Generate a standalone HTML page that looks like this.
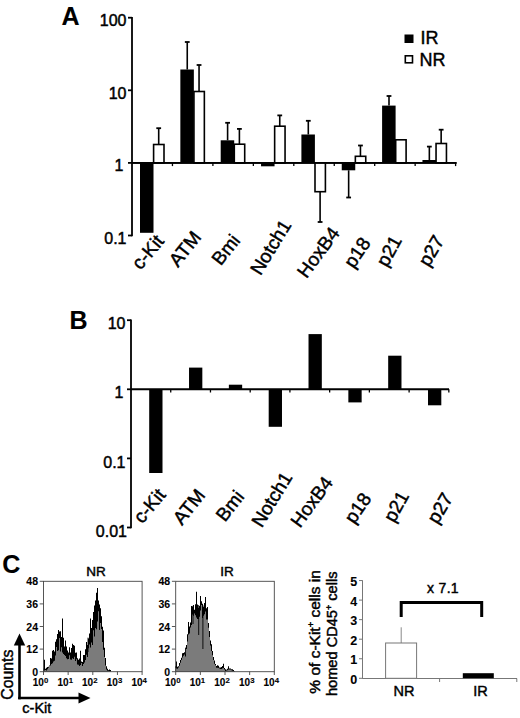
<!DOCTYPE html>
<html><head><meta charset="utf-8"><style>
html,body{margin:0;padding:0;background:#fff;}
body{width:520px;height:718px;overflow:hidden;}
svg{display:block;font-family:"Liberation Sans", sans-serif;}
text{stroke:#000;stroke-width:0.45px;}
text[font-weight=bold]{stroke-width:0.1px;}
</style></head><body>
<svg width="520" height="718" viewBox="0 0 520 718" font-family='"Liberation Sans", sans-serif' fill="#000">
<rect width="520" height="718" fill="#fff"/>
<text x="61.5" y="25.3" font-size="25" font-weight="bold">A</text>
<line x1="132.0" y1="16.900000000000016" x2="132.0" y2="236.3" stroke="#000" stroke-width="1.8"/>
<line x1="128" y1="17.700000000000017" x2="132.0" y2="17.700000000000017" stroke="#000" stroke-width="1.8"/>
<text x="126.5" y="26.100000000000016" font-size="16" text-anchor="end">100</text>
<line x1="128" y1="90.30000000000001" x2="132.0" y2="90.30000000000001" stroke="#000" stroke-width="1.8"/>
<text x="126.5" y="98.70000000000002" font-size="16" text-anchor="end">10</text>
<line x1="128" y1="162.9" x2="132.0" y2="162.9" stroke="#000" stroke-width="1.8"/>
<text x="123.5" y="171.3" font-size="16" text-anchor="end">1</text>
<line x1="128" y1="235.5" x2="132.0" y2="235.5" stroke="#000" stroke-width="1.8"/>
<text x="126.5" y="243.9" font-size="16" text-anchor="end">0.1</text>
<line x1="132.0" y1="162.9" x2="456.5" y2="162.9" stroke="#000" stroke-width="1.9"/>
<line x1="172.45" y1="162.9" x2="172.45" y2="166.1" stroke="#000" stroke-width="1.3"/>
<line x1="212.9" y1="162.9" x2="212.9" y2="166.1" stroke="#000" stroke-width="1.3"/>
<line x1="253.35000000000002" y1="162.9" x2="253.35000000000002" y2="166.1" stroke="#000" stroke-width="1.3"/>
<line x1="293.8" y1="162.9" x2="293.8" y2="166.1" stroke="#000" stroke-width="1.3"/>
<line x1="334.25" y1="162.9" x2="334.25" y2="166.1" stroke="#000" stroke-width="1.3"/>
<line x1="374.70000000000005" y1="162.9" x2="374.70000000000005" y2="166.1" stroke="#000" stroke-width="1.3"/>
<line x1="415.15000000000003" y1="162.9" x2="415.15000000000003" y2="166.1" stroke="#000" stroke-width="1.3"/>
<line x1="455.6" y1="162.9" x2="455.6" y2="166.1" stroke="#000" stroke-width="1.3"/>
<rect x="140.0" y="162.9" width="13.5" height="69.9" fill="#000"/>
<line x1="158.7" y1="144.5" x2="158.7" y2="128.2" stroke="#000" stroke-width="1.6"/>
<line x1="156.29999999999998" y1="128.2" x2="161.1" y2="128.2" stroke="#000" stroke-width="1.8"/>
<rect x="153.60000000000002" y="144.5" width="10.4" height="18.400000000000006" fill="#fff" stroke="#000" stroke-width="1.6"/>
<line x1="187.25" y1="69.5" x2="187.25" y2="42" stroke="#000" stroke-width="1.6"/>
<line x1="184.85" y1="42" x2="189.65" y2="42" stroke="#000" stroke-width="1.8"/>
<rect x="180.35" y="69.5" width="13.5" height="93.4" fill="#000"/>
<line x1="199.04999999999998" y1="91.5" x2="199.04999999999998" y2="65" stroke="#000" stroke-width="1.6"/>
<line x1="196.64999999999998" y1="65" x2="201.45" y2="65" stroke="#000" stroke-width="1.8"/>
<rect x="193.95000000000002" y="91.5" width="10.4" height="71.4" fill="#fff" stroke="#000" stroke-width="1.6"/>
<line x1="227.6" y1="140.3" x2="227.6" y2="122.8" stroke="#000" stroke-width="1.6"/>
<line x1="225.2" y1="122.8" x2="230.0" y2="122.8" stroke="#000" stroke-width="1.8"/>
<rect x="220.7" y="140.3" width="13.5" height="22.599999999999994" fill="#000"/>
<line x1="239.39999999999998" y1="144.2" x2="239.39999999999998" y2="128.9" stroke="#000" stroke-width="1.6"/>
<line x1="236.99999999999997" y1="128.9" x2="241.79999999999998" y2="128.9" stroke="#000" stroke-width="1.8"/>
<rect x="234.3" y="144.2" width="10.4" height="18.700000000000017" fill="#fff" stroke="#000" stroke-width="1.6"/>
<rect x="261.05" y="162.9" width="13.5" height="3.4000000000000057" fill="#000"/>
<line x1="279.75" y1="126.2" x2="279.75" y2="115.4" stroke="#000" stroke-width="1.6"/>
<line x1="277.35" y1="115.4" x2="282.15" y2="115.4" stroke="#000" stroke-width="1.8"/>
<rect x="274.65000000000003" y="126.2" width="10.4" height="36.7" fill="#fff" stroke="#000" stroke-width="1.6"/>
<line x1="308.29999999999995" y1="134.5" x2="308.29999999999995" y2="120.8" stroke="#000" stroke-width="1.6"/>
<line x1="305.9" y1="120.8" x2="310.69999999999993" y2="120.8" stroke="#000" stroke-width="1.8"/>
<rect x="301.4" y="134.5" width="13.5" height="28.400000000000006" fill="#000"/>
<line x1="320.09999999999997" y1="191.7" x2="320.09999999999997" y2="222" stroke="#000" stroke-width="1.6"/>
<line x1="317.7" y1="222" x2="322.49999999999994" y2="222" stroke="#000" stroke-width="1.8"/>
<rect x="315.0" y="162.9" width="10.4" height="28.799999999999983" fill="#fff" stroke="#000" stroke-width="1.6"/>
<line x1="348.65" y1="170.3" x2="348.65" y2="197.5" stroke="#000" stroke-width="1.6"/>
<line x1="346.25" y1="197.5" x2="351.04999999999995" y2="197.5" stroke="#000" stroke-width="1.8"/>
<rect x="341.75" y="162.9" width="13.5" height="7.400000000000006" fill="#000"/>
<line x1="360.45" y1="156.3" x2="360.45" y2="145.5" stroke="#000" stroke-width="1.6"/>
<line x1="358.05" y1="145.5" x2="362.84999999999997" y2="145.5" stroke="#000" stroke-width="1.8"/>
<rect x="355.35" y="156.3" width="10.4" height="6.599999999999994" fill="#fff" stroke="#000" stroke-width="1.6"/>
<line x1="389.0" y1="105.6" x2="389.0" y2="96" stroke="#000" stroke-width="1.6"/>
<line x1="386.6" y1="96" x2="391.4" y2="96" stroke="#000" stroke-width="1.8"/>
<rect x="382.1" y="105.6" width="13.5" height="57.30000000000001" fill="#000"/>
<rect x="395.70000000000005" y="139.8" width="10.4" height="23.099999999999994" fill="#fff" stroke="#000" stroke-width="1.6"/>
<line x1="429.34999999999997" y1="160" x2="429.34999999999997" y2="146.6" stroke="#000" stroke-width="1.6"/>
<line x1="426.95" y1="146.6" x2="431.74999999999994" y2="146.6" stroke="#000" stroke-width="1.8"/>
<rect x="422.45" y="160" width="13.5" height="2.9000000000000057" fill="#000"/>
<line x1="441.15" y1="143.5" x2="441.15" y2="129.7" stroke="#000" stroke-width="1.6"/>
<line x1="438.75" y1="129.7" x2="443.54999999999995" y2="129.7" stroke="#000" stroke-width="1.8"/>
<rect x="436.05" y="143.5" width="10.4" height="19.400000000000006" fill="#fff" stroke="#000" stroke-width="1.6"/>
<line x1="132.0" y1="162.9" x2="456.5" y2="162.9" stroke="#000" stroke-width="1.9"/>
<rect x="404.5" y="34.5" width="9" height="8.5" fill="#000"/>
<rect x="405.3" y="55.8" width="7.2" height="7" fill="#fff" stroke="#000" stroke-width="1.6"/>
<text x="420.5" y="44.3" font-size="18">IR</text>
<text x="419.5" y="65.5" font-size="18">NR</text>
<text font-size="19" text-anchor="end" transform="translate(165.0,241.7) rotate(-50)">c-Kit</text>
<text font-size="19" text-anchor="end" transform="translate(202.2,237.6) rotate(-51.5)">ATM</text>
<text font-size="19" text-anchor="end" transform="translate(241.0,240.8) rotate(-52)">Bmi</text>
<text font-size="19" text-anchor="end" transform="translate(291.9,225.0) rotate(-58.5)">Notch1</text>
<text font-size="19" text-anchor="end" transform="translate(340.5,233.3) rotate(-53.5)">HoxB4</text>
<text font-size="19" text-anchor="end" transform="translate(371.4,243.0) rotate(-56)">p18</text>
<text font-size="19" text-anchor="end" transform="translate(402.4,240.3) rotate(-61)">p21</text>
<text font-size="19" text-anchor="end" transform="translate(444.8,240.5) rotate(-59.5)">p27</text>
<text x="69.6" y="329.3" font-size="25" font-weight="bold">B</text>
<line x1="131.0" y1="319.40000000000003" x2="131.0" y2="528.3" stroke="#000" stroke-width="1.8"/>
<line x1="127" y1="320.20000000000005" x2="131.0" y2="320.20000000000005" stroke="#000" stroke-width="1.8"/>
<text x="125.5" y="328.80000000000007" font-size="16" text-anchor="end">10</text>
<line x1="127" y1="389.3" x2="131.0" y2="389.3" stroke="#000" stroke-width="1.8"/>
<text x="123.3" y="397.90000000000003" font-size="16" text-anchor="end">1</text>
<line x1="127" y1="458.4" x2="131.0" y2="458.4" stroke="#000" stroke-width="1.8"/>
<text x="125.5" y="468.0" font-size="16" text-anchor="end">0.1</text>
<line x1="127" y1="527.5" x2="131.0" y2="527.5" stroke="#000" stroke-width="1.8"/>
<text x="127" y="537.1" font-size="16" text-anchor="end">0.01</text>
<line x1="131.0" y1="389.3" x2="449" y2="389.3" stroke="#000" stroke-width="1.9"/>
<line x1="170.73" y1="389.3" x2="170.73" y2="392.5" stroke="#000" stroke-width="1.3"/>
<line x1="210.45999999999998" y1="389.3" x2="210.45999999999998" y2="392.5" stroke="#000" stroke-width="1.3"/>
<line x1="250.19" y1="389.3" x2="250.19" y2="392.5" stroke="#000" stroke-width="1.3"/>
<line x1="289.91999999999996" y1="389.3" x2="289.91999999999996" y2="392.5" stroke="#000" stroke-width="1.3"/>
<line x1="329.65" y1="389.3" x2="329.65" y2="392.5" stroke="#000" stroke-width="1.3"/>
<line x1="369.38" y1="389.3" x2="369.38" y2="392.5" stroke="#000" stroke-width="1.3"/>
<line x1="409.10999999999996" y1="389.3" x2="409.10999999999996" y2="392.5" stroke="#000" stroke-width="1.3"/>
<line x1="448.84" y1="389.3" x2="448.84" y2="392.5" stroke="#000" stroke-width="1.3"/>
<rect x="149.2" y="389.3" width="13.3" height="83.69999999999999" fill="#000"/>
<rect x="189.02999999999997" y="367.6" width="13.3" height="21.69999999999999" fill="#000"/>
<rect x="228.85999999999999" y="384.7" width="13.3" height="4.600000000000023" fill="#000"/>
<rect x="268.69" y="389.3" width="13.3" height="37.5" fill="#000"/>
<rect x="308.52" y="334.1" width="13.3" height="55.19999999999999" fill="#000"/>
<rect x="348.34999999999997" y="389.3" width="13.3" height="13.099999999999966" fill="#000"/>
<rect x="388.17999999999995" y="355.7" width="13.3" height="33.60000000000002" fill="#000"/>
<rect x="428.01" y="389.3" width="13.3" height="16.0" fill="#000"/>
<text font-size="19" text-anchor="end" transform="translate(166.6,495.4) rotate(-50)">c-Kit</text>
<text font-size="19" text-anchor="end" transform="translate(206.0,495.6) rotate(-51.5)">ATM</text>
<text font-size="19" text-anchor="end" transform="translate(245.2,497.0) rotate(-52)">Bmi</text>
<text font-size="19" text-anchor="end" transform="translate(293.1,477.2) rotate(-58.5)">Notch1</text>
<text font-size="19" text-anchor="end" transform="translate(333.8,482.8) rotate(-53.5)">HoxB4</text>
<text font-size="19" text-anchor="end" transform="translate(372.1,498.4) rotate(-56)">p18</text>
<text font-size="19" text-anchor="end" transform="translate(409.6,495.8) rotate(-61)">p21</text>
<text font-size="19" text-anchor="end" transform="translate(453.7,497.8) rotate(-59.5)">p27</text>
<text x="2.2" y="572.8" font-size="25" font-weight="bold">C</text>
<path d="M43.00,671.6 L43.00,668.4 L44.00,668.4 L44.00,659.8 L45.00,659.8 L45.00,668.7 L46.00,668.7 L46.00,667.7 L47.00,667.7 L47.00,667.1 L48.00,667.1 L48.00,666.8 L49.00,666.8 L49.00,665.5 L50.00,665.5 L50.00,658.1 L51.00,658.1 L51.00,658.4 L52.00,658.4 L52.00,650.7 L53.00,650.7 L53.00,650.0 L54.00,650.0 L54.00,651.5 L55.00,651.5 L55.00,641.8 L56.00,641.8 L56.00,639.3 L57.00,639.3 L57.00,634.0 L58.00,634.0 L58.00,630.0 L59.00,630.0 L59.00,631.4 L60.00,631.4 L60.00,631.3 L61.00,631.3 L61.00,636.9 L62.00,636.9 L62.00,618.4 L63.00,618.4 L63.00,637.8 L64.00,637.8 L64.00,646.6 L65.00,646.6 L65.00,640.4 L66.00,640.4 L66.00,646.4 L67.00,646.4 L67.00,650.6 L68.00,650.6 L68.00,652.4 L69.00,652.4 L69.00,647.3 L70.00,647.3 L70.00,652.5 L71.00,652.5 L71.00,648.0 L72.00,648.0 L72.00,643.8 L73.00,643.8 L73.00,645.0 L74.00,645.0 L74.00,645.7 L75.00,645.7 L75.00,652.7 L76.00,652.7 L76.00,652.5 L77.00,652.5 L77.00,658.3 L78.00,658.3 L78.00,659.7 L79.00,659.7 L79.00,658.4 L80.00,658.4 L80.00,650.7 L81.00,650.7 L81.00,661.4 L82.00,661.4 L82.00,661.9 L83.00,661.9 L83.00,654.9 L84.00,654.9 L84.00,654.9 L85.00,654.9 L85.00,649.3 L86.00,649.3 L86.00,642.0 L87.00,642.0 L87.00,645.1 L88.00,645.1 L88.00,638.4 L89.00,638.4 L89.00,633.6 L90.00,633.6 L90.00,618.4 L91.00,618.4 L91.00,628.1 L92.00,628.1 L92.00,620.0 L93.00,620.0 L93.00,612.0 L94.00,612.0 L94.00,605.6 L95.00,605.6 L95.00,600.4 L96.00,600.4 L96.00,592.7 L97.00,592.7 L97.00,588.1 L98.00,588.1 L98.00,600.6 L99.00,600.6 L99.00,604.4 L100.00,604.4 L100.00,608.2 L101.00,608.2 L101.00,616.3 L102.00,616.3 L102.00,626.8 L103.00,626.8 L103.00,630.4 L104.00,630.4 L104.00,647.7 L105.00,647.7 L105.00,657.9 L106.00,657.9 L106.00,666.2 L107.00,666.2 L107.00,668.8 L108.00,668.8 L108.00,670.0 L109.00,670.0 L109.00,669.5 L110.00,669.5 L110.00,670.0 L111.00,670.0 L111.00,671.5 L112.00,671.5 L112.00,671.6 Z" fill="#000"/>
<path d="M43.00,671.6 L43.00,670.4 L44.00,670.4 L44.00,670.4 L45.00,670.4 L45.00,670.0 L46.00,670.0 L46.00,670.4 L47.00,670.4 L47.00,669.3 L48.00,669.3 L48.00,667.7 L49.00,667.7 L49.00,665.9 L50.00,665.9 L50.00,665.6 L51.00,665.6 L51.00,664.0 L52.00,664.0 L52.00,663.2 L53.00,663.2 L53.00,661.5 L54.00,661.5 L54.00,660.7 L55.00,660.7 L55.00,655.4 L56.00,655.4 L56.00,647.1 L57.00,647.1 L57.00,650.9 L58.00,650.9 L58.00,650.2 L59.00,650.2 L59.00,638.1 L60.00,638.1 L60.00,651.4 L61.00,651.4 L61.00,647.3 L62.00,647.3 L62.00,652.4 L63.00,652.4 L63.00,653.9 L64.00,653.9 L64.00,655.0 L65.00,655.0 L65.00,655.9 L66.00,655.9 L66.00,658.3 L67.00,658.3 L67.00,659.3 L68.00,659.3 L68.00,658.9 L69.00,658.9 L69.00,655.2 L70.00,655.2 L70.00,659.4 L71.00,659.4 L71.00,659.8 L72.00,659.8 L72.00,658.3 L73.00,658.3 L73.00,658.9 L74.00,658.9 L74.00,656.6 L75.00,656.6 L75.00,661.0 L76.00,661.0 L76.00,659.2 L77.00,659.2 L77.00,664.6 L78.00,664.6 L78.00,664.8 L79.00,664.8 L79.00,665.9 L80.00,665.9 L80.00,665.0 L81.00,665.0 L81.00,662.9 L82.00,662.9 L82.00,666.1 L83.00,666.1 L83.00,664.1 L84.00,664.1 L84.00,662.5 L85.00,662.5 L85.00,660.1 L86.00,660.1 L86.00,654.8 L87.00,654.8 L87.00,657.1 L88.00,657.1 L88.00,648.3 L89.00,648.3 L89.00,644.4 L90.00,644.4 L90.00,647.6 L91.00,647.6 L91.00,642.4 L92.00,642.4 L92.00,644.9 L93.00,644.9 L93.00,630.2 L94.00,630.2 L94.00,636.4 L95.00,636.4 L95.00,628.1 L96.00,628.1 L96.00,629.2 L97.00,629.2 L97.00,621.4 L98.00,621.4 L98.00,611.3 L99.00,611.3 L99.00,628.8 L100.00,628.8 L100.00,623.0 L101.00,623.0 L101.00,629.1 L102.00,629.1 L102.00,641.9 L103.00,641.9 L103.00,649.8 L104.00,649.8 L104.00,656.9 L105.00,656.9 L105.00,665.5 L106.00,665.5 L106.00,669.4 L107.00,669.4 L107.00,670.8 L108.00,670.8 L108.00,670.7 L109.00,670.7 L109.00,671.6 L110.00,671.6 L110.00,671.6 L111.00,671.6 L111.00,671.6 L112.00,671.6 L112.00,671.6 Z" fill="#7b7b7b"/>
<line x1="60.5" y1="637.6" x2="60.5" y2="650" stroke="#000" stroke-width="0.9"/>
<line x1="88" y1="637.6333333333333" x2="88" y2="652" stroke="#000" stroke-width="0.9"/>
<line x1="99.5" y1="611.8499999999999" x2="99.5" y2="630" stroke="#000" stroke-width="0.9"/>
<line x1="66" y1="647.7" x2="66" y2="656" stroke="#000" stroke-width="0.9"/>
<line x1="74" y1="649.7" x2="74" y2="657" stroke="#000" stroke-width="0.9"/>
<rect x="43.5" y="581.3" width="98.6" height="90.4" fill="none" stroke="#444" stroke-width="0.9"/>
<text x="96" y="575.8" font-size="13.5" text-anchor="middle" stroke="#000" stroke-width="0.35">NR</text>
<line x1="39.7" y1="581.3" x2="43.2" y2="581.3" stroke="#444" stroke-width="0.9"/>
<text x="38.0" y="585.4" font-size="10.5" font-weight="bold" text-anchor="end">48</text>
<line x1="39.7" y1="603.9" x2="43.2" y2="603.9" stroke="#444" stroke-width="0.9"/>
<text x="38.0" y="608.0" font-size="10.5" font-weight="bold" text-anchor="end">36</text>
<line x1="39.7" y1="626.5" x2="43.2" y2="626.5" stroke="#444" stroke-width="0.9"/>
<text x="38.0" y="630.6" font-size="10.5" font-weight="bold" text-anchor="end">24</text>
<line x1="39.7" y1="649.0999999999999" x2="43.2" y2="649.0999999999999" stroke="#444" stroke-width="0.9"/>
<text x="38.0" y="653.1999999999999" font-size="10.5" font-weight="bold" text-anchor="end">12</text>
<line x1="39.7" y1="671.6999999999999" x2="43.2" y2="671.6999999999999" stroke="#444" stroke-width="0.9"/>
<text x="38.0" y="675.8" font-size="10.5" font-weight="bold" text-anchor="end">0</text>
<line x1="43.5" y1="671.6" x2="43.5" y2="675" stroke="#444" stroke-width="0.9"/>
<text x="43.9" y="686.3" font-size="10" font-weight="bold" text-anchor="end">10</text>
<text x="44.0" y="683.0" font-size="7.8" font-weight="bold">0</text>
<line x1="68.15" y1="671.6" x2="68.15" y2="675" stroke="#444" stroke-width="0.9"/>
<text x="68.55000000000001" y="686.3" font-size="10" font-weight="bold" text-anchor="end">10</text>
<text x="68.65" y="683.0" font-size="7.8" font-weight="bold">1</text>
<line x1="92.8" y1="671.6" x2="92.8" y2="675" stroke="#444" stroke-width="0.9"/>
<text x="93.2" y="686.3" font-size="10" font-weight="bold" text-anchor="end">10</text>
<text x="93.3" y="683.0" font-size="7.8" font-weight="bold">2</text>
<line x1="117.44999999999999" y1="671.6" x2="117.44999999999999" y2="675" stroke="#444" stroke-width="0.9"/>
<text x="117.85" y="686.3" font-size="10" font-weight="bold" text-anchor="end">10</text>
<text x="117.94999999999999" y="683.0" font-size="7.8" font-weight="bold">3</text>
<line x1="142.1" y1="671.6" x2="142.1" y2="675" stroke="#444" stroke-width="0.9"/>
<text x="142.5" y="686.3" font-size="10" font-weight="bold" text-anchor="end">10</text>
<text x="142.6" y="683.0" font-size="7.8" font-weight="bold">4</text>
<path d="M175.00,671.6 L175.00,666.2 L176.00,666.2 L176.00,661.5 L177.00,661.5 L177.00,666.7 L178.00,666.7 L178.00,666.2 L179.00,666.2 L179.00,663.1 L180.00,663.1 L180.00,660.0 L181.00,660.0 L181.00,657.7 L182.00,657.7 L182.00,653.2 L183.00,653.2 L183.00,652.9 L184.00,652.9 L184.00,652.3 L185.00,652.3 L185.00,653.7 L186.00,653.7 L186.00,645.0 L187.00,645.0 L187.00,634.2 L188.00,634.2 L188.00,622.0 L189.00,622.0 L189.00,626.5 L190.00,626.5 L190.00,622.4 L191.00,622.4 L191.00,606.0 L192.00,606.0 L192.00,606.5 L193.00,606.5 L193.00,605.1 L194.00,605.1 L194.00,609.7 L195.00,609.7 L195.00,604.2 L196.00,604.2 L196.00,591.7 L197.00,591.7 L197.00,604.5 L198.00,604.5 L198.00,607.9 L199.00,607.9 L199.00,606.0 L200.00,606.0 L200.00,596.0 L201.00,596.0 L201.00,601.3 L202.00,601.3 L202.00,603.7 L203.00,603.7 L203.00,606.7 L204.00,606.7 L204.00,603.0 L205.00,603.0 L205.00,597.0 L206.00,597.0 L206.00,608.2 L207.00,608.2 L207.00,607.1 L208.00,607.1 L208.00,622.9 L209.00,622.9 L209.00,630.9 L210.00,630.9 L210.00,640.5 L211.00,640.5 L211.00,644.3 L212.00,644.3 L212.00,650.9 L213.00,650.9 L213.00,657.0 L214.00,657.0 L214.00,660.6 L215.00,660.6 L215.00,664.0 L216.00,664.0 L216.00,666.1 L217.00,666.1 L217.00,665.2 L218.00,665.2 L218.00,665.7 L219.00,665.7 L219.00,667.4 L220.00,667.4 L220.00,667.6 L221.00,667.6 L221.00,667.1 L222.00,667.1 L222.00,665.9 L223.00,665.9 L223.00,663.7 L224.00,663.7 L224.00,668.1 L225.00,668.1 L225.00,669.2 L226.00,669.2 L226.00,669.8 L227.00,669.8 L227.00,668.7 L228.00,668.7 L228.00,666.2 L229.00,666.2 L229.00,668.5 L230.00,668.5 L230.00,668.4 L231.00,668.4 L231.00,669.3 L232.00,669.3 L232.00,669.2 L233.00,669.2 L233.00,669.9 L234.00,669.9 L234.00,671.0 L235.00,671.0 L235.00,671.6 Z" fill="#000"/>
<path d="M175.00,671.6 L175.00,668.0 L176.00,668.0 L176.00,668.5 L177.00,668.5 L177.00,668.8 L178.00,668.8 L178.00,667.6 L179.00,667.6 L179.00,665.7 L180.00,665.7 L180.00,662.8 L181.00,662.8 L181.00,660.0 L182.00,660.0 L182.00,657.5 L183.00,657.5 L183.00,655.7 L184.00,655.7 L184.00,654.6 L185.00,654.6 L185.00,656.5 L186.00,656.5 L186.00,648.9 L187.00,648.9 L187.00,641.4 L188.00,641.4 L188.00,634.4 L189.00,634.4 L189.00,633.5 L190.00,633.5 L190.00,627.4 L191.00,627.4 L191.00,624.9 L192.00,624.9 L192.00,614.5 L193.00,614.5 L193.00,615.8 L194.00,615.8 L194.00,613.6 L195.00,613.6 L195.00,615.3 L196.00,615.3 L196.00,617.5 L197.00,617.5 L197.00,619.0 L198.00,619.0 L198.00,618.9 L199.00,618.9 L199.00,616.7 L200.00,616.7 L200.00,610.4 L201.00,610.4 L201.00,605.0 L202.00,605.0 L202.00,618.0 L203.00,618.0 L203.00,615.8 L204.00,615.8 L204.00,614.2 L205.00,614.2 L205.00,611.6 L206.00,611.6 L206.00,619.6 L207.00,619.6 L207.00,619.5 L208.00,619.5 L208.00,627.7 L209.00,627.7 L209.00,636.9 L210.00,636.9 L210.00,645.6 L211.00,645.6 L211.00,650.9 L212.00,650.9 L212.00,655.3 L213.00,655.3 L213.00,660.1 L214.00,660.1 L214.00,663.7 L215.00,663.7 L215.00,665.3 L216.00,665.3 L216.00,667.8 L217.00,667.8 L217.00,667.8 L218.00,667.8 L218.00,668.0 L219.00,668.0 L219.00,668.6 L220.00,668.6 L220.00,669.1 L221.00,669.1 L221.00,668.9 L222.00,668.9 L222.00,668.3 L223.00,668.3 L223.00,667.9 L224.00,667.9 L224.00,669.5 L225.00,669.5 L225.00,671.0 L226.00,671.0 L226.00,670.5 L227.00,670.5 L227.00,670.2 L228.00,670.2 L228.00,669.5 L229.00,669.5 L229.00,669.5 L230.00,669.5 L230.00,669.6 L231.00,669.6 L231.00,670.2 L232.00,670.2 L232.00,670.8 L233.00,670.8 L233.00,671.5 L234.00,671.5 L234.00,671.6 L235.00,671.6 L235.00,671.6 Z" fill="#7b7b7b"/>
<line x1="198.7" y1="605.0142857142857" x2="198.7" y2="635" stroke="#000" stroke-width="0.9"/>
<line x1="202.9" y1="605.1619047619048" x2="202.9" y2="649" stroke="#000" stroke-width="0.9"/>
<line x1="193" y1="605.8533333333334" x2="193" y2="624" stroke="#000" stroke-width="0.9"/>
<line x1="185.5" y1="647.6428571428572" x2="185.5" y2="655" stroke="#000" stroke-width="0.9"/>
<rect x="175.70000000000002" y="581.3" width="98.6" height="90.4" fill="none" stroke="#444" stroke-width="0.9"/>
<text x="227" y="575.8" font-size="13.5" text-anchor="middle" stroke="#000" stroke-width="0.35">IR</text>
<line x1="171.9" y1="581.3" x2="175.4" y2="581.3" stroke="#444" stroke-width="0.9"/>
<text x="170.20000000000002" y="585.4" font-size="10.5" font-weight="bold" text-anchor="end">48</text>
<line x1="171.9" y1="603.9" x2="175.4" y2="603.9" stroke="#444" stroke-width="0.9"/>
<text x="170.20000000000002" y="608.0" font-size="10.5" font-weight="bold" text-anchor="end">36</text>
<line x1="171.9" y1="626.5" x2="175.4" y2="626.5" stroke="#444" stroke-width="0.9"/>
<text x="170.20000000000002" y="630.6" font-size="10.5" font-weight="bold" text-anchor="end">24</text>
<line x1="171.9" y1="649.0999999999999" x2="175.4" y2="649.0999999999999" stroke="#444" stroke-width="0.9"/>
<text x="170.20000000000002" y="653.1999999999999" font-size="10.5" font-weight="bold" text-anchor="end">12</text>
<line x1="171.9" y1="671.6999999999999" x2="175.4" y2="671.6999999999999" stroke="#444" stroke-width="0.9"/>
<text x="170.20000000000002" y="675.8" font-size="10.5" font-weight="bold" text-anchor="end">0</text>
<line x1="175.70000000000002" y1="671.6" x2="175.70000000000002" y2="675" stroke="#444" stroke-width="0.9"/>
<text x="176.10000000000002" y="686.3" font-size="10" font-weight="bold" text-anchor="end">10</text>
<text x="176.20000000000002" y="683.0" font-size="7.8" font-weight="bold">0</text>
<line x1="200.35000000000002" y1="671.6" x2="200.35000000000002" y2="675" stroke="#444" stroke-width="0.9"/>
<text x="200.75000000000003" y="686.3" font-size="10" font-weight="bold" text-anchor="end">10</text>
<text x="200.85000000000002" y="683.0" font-size="7.8" font-weight="bold">1</text>
<line x1="225.0" y1="671.6" x2="225.0" y2="675" stroke="#444" stroke-width="0.9"/>
<text x="225.4" y="686.3" font-size="10" font-weight="bold" text-anchor="end">10</text>
<text x="225.5" y="683.0" font-size="7.8" font-weight="bold">2</text>
<line x1="249.65" y1="671.6" x2="249.65" y2="675" stroke="#444" stroke-width="0.9"/>
<text x="250.05" y="686.3" font-size="10" font-weight="bold" text-anchor="end">10</text>
<text x="250.15" y="683.0" font-size="7.8" font-weight="bold">3</text>
<line x1="274.3" y1="671.6" x2="274.3" y2="675" stroke="#444" stroke-width="0.9"/>
<text x="274.7" y="686.3" font-size="10" font-weight="bold" text-anchor="end">10</text>
<text x="274.8" y="683.0" font-size="7.8" font-weight="bold">4</text>
<line x1="19.5" y1="699.3" x2="19.5" y2="644" stroke="#000" stroke-width="2.6"/>
<polygon points="19.5,633.5 13.8,645.5 25.2,645.5" fill="#000"/>
<line x1="18.2" y1="698" x2="80" y2="698" stroke="#000" stroke-width="2.6"/>
<polygon points="90.5,698 78.5,692.5 78.5,703.5" fill="#000"/>
<text font-size="15.8" text-anchor="middle" transform="translate(13.4,674.7) rotate(-90)">Counts</text>
<text x="22.3" y="713.3" font-size="14.5">c-Kit</text>
<line x1="362.5" y1="580.3" x2="362.5" y2="678.8" stroke="#777" stroke-width="1"/>
<line x1="359" y1="678.3" x2="362.5" y2="678.3" stroke="#777" stroke-width="1"/>
<text x="357.3" y="683.6999999999999" font-size="12.5" font-weight="bold" text-anchor="end">0</text>
<line x1="359" y1="658.75" x2="362.5" y2="658.75" stroke="#777" stroke-width="1"/>
<text x="357.3" y="664.15" font-size="12.5" font-weight="bold" text-anchor="end">1</text>
<line x1="359" y1="639.1999999999999" x2="362.5" y2="639.1999999999999" stroke="#777" stroke-width="1"/>
<text x="357.3" y="644.5999999999999" font-size="12.5" font-weight="bold" text-anchor="end">2</text>
<line x1="359" y1="619.65" x2="362.5" y2="619.65" stroke="#777" stroke-width="1"/>
<text x="357.3" y="625.05" font-size="12.5" font-weight="bold" text-anchor="end">3</text>
<line x1="359" y1="600.0999999999999" x2="362.5" y2="600.0999999999999" stroke="#777" stroke-width="1"/>
<text x="357.3" y="605.4999999999999" font-size="12.5" font-weight="bold" text-anchor="end">4</text>
<line x1="359" y1="580.55" x2="362.5" y2="580.55" stroke="#777" stroke-width="1"/>
<text x="357.3" y="585.9499999999999" font-size="12.5" font-weight="bold" text-anchor="end">5</text>
<line x1="362.5" y1="678.5" x2="517" y2="678.5" stroke="#777" stroke-width="1"/>
<line x1="439.6" y1="678.5" x2="439.6" y2="682" stroke="#777" stroke-width="1"/>
<line x1="516.8" y1="678.5" x2="516.8" y2="682" stroke="#777" stroke-width="1"/>
<line x1="401.2" y1="643" x2="401.2" y2="627.3" stroke="#888" stroke-width="1"/>
<rect x="385.6" y="643" width="31" height="35.3" fill="#fff" stroke="#777" stroke-width="1"/>
<rect x="462.8" y="673.2" width="31" height="5" fill="#000"/>
<path d="M401.2,617 L401.2,602.6 L481.7,602.6 L481.7,617" fill="none" stroke="#000" stroke-width="3"/>
<text x="443" y="593" font-size="14" letter-spacing="0.3" text-anchor="middle">x 7.1</text>
<text x="403.9" y="696" font-size="14.5" text-anchor="middle">NR</text>
<text x="480.4" y="696" font-size="14.5" text-anchor="middle">IR</text>
<text font-size="14" text-anchor="middle" textLength="123.5" lengthAdjust="spacingAndGlyphs" transform="translate(319.9,631.9) rotate(-90)">% of c-Kit<tspan font-size="8.5" dy="-5.5">+</tspan><tspan dy="5.5"> cells in</tspan></text>
<text font-size="14" text-anchor="middle" textLength="124.5" lengthAdjust="spacingAndGlyphs" transform="translate(337.1,633.8) rotate(-90)">homed CD45<tspan font-size="8.5" dy="-5.5">+</tspan><tspan dy="5.5"> cells</tspan></text>
</svg>
</body></html>
